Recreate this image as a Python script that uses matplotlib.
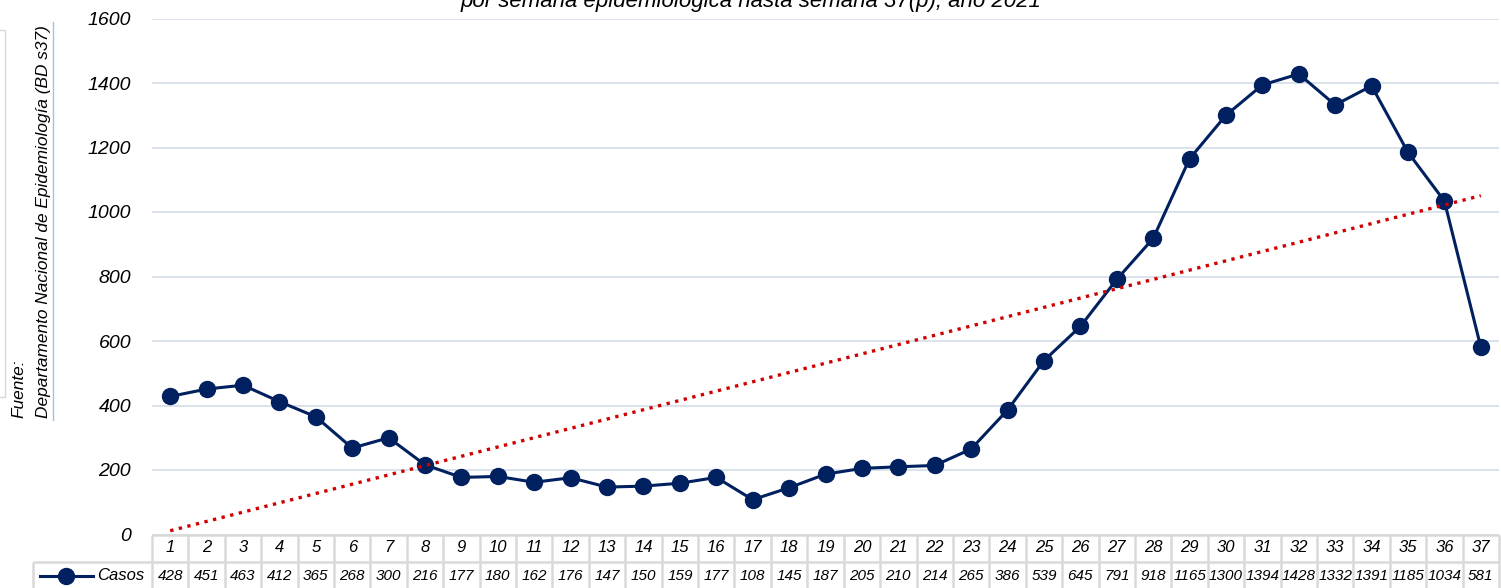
import matplotlib

matplotlib.use("Agg")
import matplotlib.pyplot as plt
import numpy as np
from matplotlib.patches import Rectangle

plt.rcParams["font.family"] = ["Liberation Sans", "DejaVu Sans"]
plt.rcParams["font.style"] = "italic"

weeks = list(range(1, 38))
casos = [428, 451, 463, 412, 365, 268, 300, 216, 177, 180,
         162, 176, 147, 150, 159, 177, 108, 145, 187, 205,
         210, 214, 265, 386, 539, 645, 791, 918, 1165, 1300,
         1394, 1428, 1332, 1391, 1185, 1034, 581]
y_ticks = [0, 200, 400, 600, 800, 1000, 1200, 1400, 1600]

title = "por semana epidemiológica hasta semana 37(p), año 2021"
source_1 = "Fuente:"
source_2 = "Departamento Nacional de Epidemiología (BD s37)"
series_name = "Casos"

NAVY = "#002060"
TREND = "#d00000"
GRID = "#d9e2ec"
BORDER = "#d9d9d9"

W_PX, H_PX = 1501, 588
LEFT_PX, RIGHT_PX = 152, 1499
TOP_PX, ZERO_PX = 18.5, 534.5

fig = plt.figure(figsize=(W_PX / 100, H_PX / 100), dpi=100)
ax_left = LEFT_PX / W_PX
ax_width = (RIGHT_PX - LEFT_PX) / W_PX
ax_bottom = 1 - ZERO_PX / H_PX
ax_height = (ZERO_PX - TOP_PX) / H_PX
ax = fig.add_axes([ax_left, ax_bottom, ax_width, ax_height])

x = np.array(weeks)
y = np.array(casos)
slope, intercept = np.polyfit(x, y, 1)

ax.plot(x, y, color=NAVY, lw=2.2, marker="o", ms=11.5, zorder=3)
ax.plot(x, slope * x + intercept, color=TREND, lw=2.4, ls=":", zorder=4)

ax.set_xlim(0.5, len(weeks) + 0.5)
ax.set_ylim(0, 1600)
ax.set_yticks(y_ticks)
ax.set_yticklabels([str(v) for v in y_ticks], fontsize=14)
ax.set_xticks([])
ax.tick_params(axis="y", length=0, pad=15)
for spine in ax.spines.values():
    spine.set_visible(False)
ax.yaxis.grid(True, color=GRID, lw=1.4)
ax.set_axisbelow(True)

# data table under the chart
colw = (RIGHT_PX - LEFT_PX) / len(weeks)
tax = fig.add_axes([ax_left, 0, ax_width, ax_bottom])
tax.set_xlim(0.5, len(weeks) + 0.5)
tax.set_ylim(0, H_PX - ZERO_PX)
tax.axis("off")

label_left = 0.5 + (33 - LEFT_PX) / colw
row_mid = 26.0
row_top = H_PX - ZERO_PX
line_kw = dict(color=BORDER, lw=1.8, clip_on=False, solid_capstyle="butt")

tax.plot([0.5, len(weeks) + 0.5], [row_top, row_top], **line_kw)
tax.plot([label_left, len(weeks) + 0.5], [row_mid, row_mid], **line_kw)
for k in range(len(weeks) + 1):
    tax.plot([k + 0.5, k + 0.5], [-2, row_top], **line_kw)
tax.plot([label_left, label_left], [-2, row_mid], **line_kw)

for wk, val in zip(weeks, casos):
    tax.text(wk, 40, str(wk), ha="center", va="center", fontsize=12, clip_on=False)
    tax.text(wk, 12, str(val), ha="center", va="center", fontsize=11, clip_on=False)

leg_x0 = 0.5 + (40 - LEFT_PX) / colw
leg_x1 = 0.5 + (93 - LEFT_PX) / colw
tax.plot([leg_x0, leg_x1], [12, 12], color=NAVY, lw=2.2, clip_on=False)
tax.plot([(leg_x0 + leg_x1) / 2], [12], color=NAVY, marker="o", ms=11.5, clip_on=False)
tax.text(0.5 + (97 - LEFT_PX) / colw, 12, series_name, ha="left", va="center",
         fontsize=12, clip_on=False)

# cut-off title and rotated source note
fig.text(0.5, 1 - 7 / H_PX, title, ha="center", va="baseline", fontsize=16)
fig.text(19 / W_PX, 1 - 418 / H_PX, source_1, rotation=90, ha="center",
         va="bottom", fontsize=12.4)
fig.text(44 / W_PX, 1 - 418 / H_PX, source_2, rotation=90, ha="center",
         va="bottom", fontsize=12.4)
fig.add_artist(plt.Line2D([52.5 / W_PX, 52.5 / W_PX], [1 - 420 / H_PX, 1 - 22 / H_PX],
                          color="#9dc3e6", lw=1.0))
fig.add_artist(Rectangle((-10 / W_PX, 1 - 397 / H_PX), 14.5 / W_PX, 367 / H_PX,
                         fill=False, edgecolor=BORDER, lw=1.0))

fig.savefig("out.png", dpi=100)
